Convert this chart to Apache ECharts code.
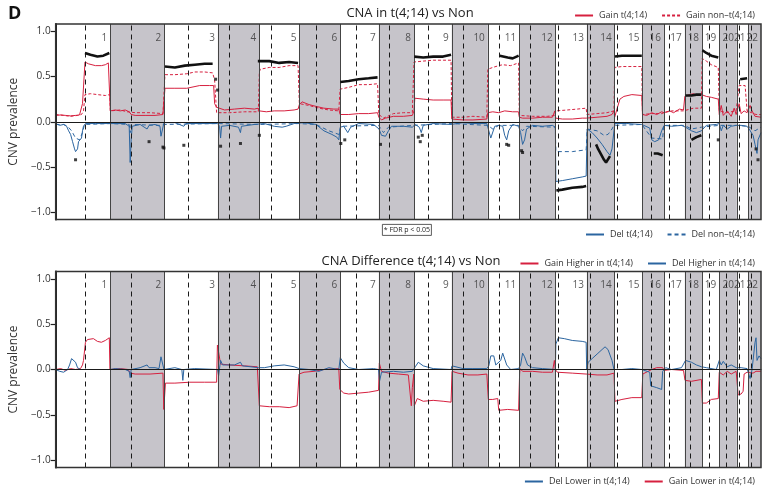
<!DOCTYPE html>
<html><head><meta charset="utf-8">
<script src="https://cdn.jsdelivr.net/npm/echarts@6/dist/echarts.min.js"></script>
<style>html,body{margin:0;padding:0;background:#fff}#c{width:763px;height:486px}</style>
</head><body><div id="c"></div>
<script>
// ---- genome layout (x units along the plotted genome index) ----
const chromNames = ['1','2','3','4','5','6','7','8','9','10','11','12','13','14','15','16','17','18','19','20','21','22'];
const chromBounds = [0,55,109.3,163.3,205,245.3,286.3,325.3,360.7,398.7,435,466.7,503.3,534.7,562.7,590.7,612.3,633.3,650.7,668,685.7,697.3,710];
const centromeres = [29.3,76,133,174.7,216.7,262,302.7,335.7,374.7,410.3,446.7,477.3,506,537.7,565.7,599.7,617.3,639,658,674.7,688.3,700];
const yTicks = [-1,-0.5,0,0.5,1];

// ---- top panel: CNA in t(4;14) vs Non ----
const gainT = [[0,0.07],[5,0.075],[10,0.07],[15,0.065],[20,0.07],[24,0.075],[26,0.08],[27,0.2],[28,0.21],[29,0.22],
[29.5,0.66],[33,0.64],[40,0.62],[46,0.62],[50,0.63],[53,0.65],[54.5,0.65],
[55,0.12],[60,0.13],[65,0.12],[70,0.13],[74,0.11],[76,0.08],[80,0.07],[90,0.07],[100,0.07],[108,0.08],
[109.3,0.08],[110,0.37],[120,0.37],[132,0.37],[134,0.39],[145,0.4],[155,0.4],[159,0.4],[160,0.2],[162,0.16],
[163.3,0.15],[170,0.13],[180,0.14],[190,0.15],[200,0.14],[204,0.15],
[205,0.12],[212,0.11],[220,0.12],[230,0.12],[240,0.13],[244,0.14],
[245.3,0.19],[248,0.22],[255,0.19],[262,0.17],[270,0.15],[280,0.14],[285,0.14],
[286.3,0.08],[295,0.08],[305,0.09],[315,0.09],[324,0.1],
[325.3,0.05],[328,0.02],[332,0.04],[340,0.06],[350,0.06],[359,0.07],
[360.7,0.12],[361.5,0.26],[370,0.25],[380,0.24],[390,0.24],[398,0.24],
[398.7,0.03],[410,0.02],[420,0.02],[434,0.03],
[435,0.1],[440,0.11],[446,0.1],[452,0.12],[460,0.11],[466,0.11],
[466.7,0.05],[470,0.04],[480,0.04],[490,0.05],[500,0.05],[502.5,0.12],[503,0.07],
[503.3,0.04],[510,0.03],[520,0.03],[530,0.04],[534,0.04],
[534.7,0.04],[545,0.05],[555,0.06],[560,0.08],[562,0.12],
[562.7,0.05],[565,0.14],[568,0.25],[572,0.28],[580,0.3],[590,0.29],
[590.7,0.08],[595,0.07],[600,0.1],[605,0.08],[610,0.11],
[612.3,0.1],[618,0.12],[622,0.1],[628,0.14],[632,0.13],
[633.3,0.28],[638,0.3],[642,0.31],[646,0.29],[650,0.3],
[650.7,0.29],[655,0.28],[660,0.27],[667,0.25],
[668,0.08],[670,0.18],[672,0.07],[676,0.12],[680,0.06],[683,0.15],[685,0.08],
[685.7,0.1],[688,0.2],[690,0.09],[693,0.12],[696,0.1],
[697.3,0.08],[699,0.18],[701,0.12],[704,0.06],[710,0.05]];

const gainNon = [[0,0.08],[8,0.07],[15,0.06],[22,0.07],[26,0.08],[28,0.12],
[29.5,0.3],[35,0.31],[42,0.3],[50,0.29],[54.5,0.3],
[55,0.12],[65,0.13],[72,0.11],[80,0.1],[95,0.1],[108,0.09],
[109.3,0.09],[110,0.52],[120,0.52],[132,0.53],[140,0.55],[150,0.55],[158,0.54],[160,0.46],[162,0.1],
[163.3,0.1],[175,0.1],[190,0.11],[204,0.11],
[205,0.55],[206,0.58],[215,0.6],[225,0.6],[235,0.62],[244,0.62],
[245.3,0.2],[255,0.18],[265,0.15],[275,0.13],[285,0.12],
[286.3,0.36],[295,0.38],[305,0.41],[315,0.41],[324,0.42],
[325.3,0.08],[330,0.04],[340,0.09],[350,0.1],[359,0.1],
[360.7,0.66],[370,0.67],[380,0.68],[390,0.68],[398,0.68],
[398.7,0.05],[410,0.05],[420,0.06],[434,0.05],
[435,0.58],[440,0.6],[446,0.62],[450,0.63],[458,0.62],[466,0.65],
[466.7,0.07],[480,0.06],[495,0.06],[503,0.07],
[503.3,0.12],[515,0.13],[525,0.14],[534,0.15],
[534.7,0.08],[545,0.09],[555,0.1],[562,0.12],
[562.7,0.6],[570,0.61],[580,0.61],[590,0.61],
[590.7,0.08],[600,0.09],[610,0.09],
[612.3,0.1],[620,0.12],[632,0.12],
[633.3,0.14],[642,0.15],[650,0.15],
[650.7,0.7],[655,0.67],[660,0.63],[667,0.6],
[668,0.12],[675,0.1],[685,0.12],
[685.7,0.1],[688,0.4],[694,0.4],[696,0.12],
[697.3,0.1],[705,0.08],[710,0.08]];

const delT = [[0,-0.02],[4,-0.04],[8,-0.03],[11,-0.05],[13,-0.1],[15,-0.14],[17,-0.22],[19,-0.3],[20,-0.33],[22,-0.3],[23,-0.22],[25,-0.22],[26,-0.18],[27,-0.1],[28,-0.05],[30,-0.02],
[40,-0.02],[54,-0.02],
[55,-0.01],[70,-0.02],[74,-0.05],[75,-0.45],[76,-0.2],[77,-0.05],[85,-0.03],[92,-0.08],[94,-0.04],[100,-0.03],[105,-0.05],[106,-0.16],[108,-0.15],[109,-0.01],
[120,-0.01],[129,-0.05],[130,-0.07],[131,-0.02],[163,-0.02],
[165,-0.05],[166,-0.18],[167,-0.05],[175,-0.04],[184,-0.06],[186,-0.12],[187,-0.05],[200,-0.03],
[210,-0.02],[220,-0.05],[228,-0.06],[232,-0.05],[240,-0.02],
[250,-0.01],[262,-0.03],[270,-0.1],[278,-0.14],[283,-0.17],[285,-0.2],
[286.5,-0.06],[290,-0.05],[294,-0.12],[297,-0.06],[305,-0.02],[320,-0.03],
[325.5,-0.08],[328,-0.15],[332,-0.16],[335,-0.1],[338,-0.05],[350,-0.05],[359,-0.06],
[362,-0.03],[366,-0.06],[368,-0.12],[370,-0.04],[380,-0.02],[398,-0.03],
[410,-0.01],[420,-0.02],[434,-0.02],
[436,-0.03],[438,-0.18],[440,-0.2],[442,-0.05],[446,-0.04],[450,-0.05],[452,-0.15],[454,-0.2],[456,-0.1],[460,-0.03],[466,-0.05],
[468,-0.12],[470,-0.25],[472,-0.2],[474,-0.08],[480,-0.04],[490,-0.05],[500,-0.04],[503,-0.06],
[503.5,-0.66],[510,-0.65],[520,-0.63],[530,-0.61],[534,-0.6],
[535,-0.08],[540,-0.12],[545,-0.18],[550,-0.25],[555,-0.33],[558,-0.37],[560,-0.3],[562,-0.1],
[563,-0.02],[575,-0.02],[590,-0.03],
[591,-0.05],[598,-0.07],[600,-0.2],[603,-0.22],[607,-0.2],[610,-0.1],
[612.5,-0.04],[620,-0.05],[630,-0.04],
[634,-0.06],[640,-0.1],[645,-0.12],[650,-0.1],
[655,-0.04],[665,-0.03],
[668,-0.02],[670,-0.1],[672,-0.04],[676,-0.08],[680,-0.05],[685,-0.04],
[690,-0.04],[696,-0.05],
[698,-0.08],[702,-0.15],[704,-0.25],[706,-0.35],[707,-0.2],[710,-0.12]];

const delNon = [[0,-0.03],[8,-0.03],[12,-0.05],[16,-0.1],[20,-0.18],[24,-0.2],[27,-0.12],[29,-0.03],[55,-0.02],[74,-0.03],[75,-0.12],[76,-0.03],[105,-0.04],[109,-0.03],[163,-0.02],[205,-0.03],[245,-0.02],[262,-0.03],[275,-0.1],[285,-0.14],[287,-0.05],[325,-0.04],[330,-0.12],[335,-0.06],[360,-0.04],[398,-0.02],[435,-0.04],[440,-0.08],[446,-0.04],[466,-0.04],[470,-0.1],[474,-0.05],[503,-0.06],[503.5,-0.33],[520,-0.33],[534,-0.31],[535,-0.08],[545,-0.1],[552,-0.15],[556,-0.14],[560,-0.08],[562,-0.04],[590,-0.03],[591,-0.04],[600,-0.18],[611,-0.19],[612,-0.04],[633,-0.04],[640,-0.08],[650,-0.06],[668,-0.04],[685,-0.04],[697,-0.05],[704,-0.1],[707,-0.08],[710,-0.06]];

// FDR p<0.05 markers (black), runs of markers and isolated markers
const sigRuns = [
 [[29.5,0.76],[35,0.74],[42,0.72],[48,0.73],[54,0.76]],
 [[110,0.61],[120,0.6],[130,0.62],[140,0.63],[150,0.64],[158,0.64]],
 [[203.5,0.67],[206,0.67],[215,0.67],[225,0.65],[235,0.66],[244,0.65]],
 [[286.5,0.44],[295,0.45],[305,0.47],[315,0.48],[324,0.49]],
 [[361,0.72],[370,0.71],[380,0.72],[390,0.72],[398,0.74]],
 [[447,0.73],[448,0.72],[455,0.71],[460,0.7],[464,0.72],[466,0.73]],
 [[563,0.72],[570,0.73],[580,0.73],[590,0.73]],
 [[634,0.29],[640,0.29],[645,0.3],[650,0.3]],
 [[651,0.79],[655,0.76],[660,0.73],[667,0.71]],
 [[689,0.47],[696,0.48]],
 [[504,-0.76],[510,-0.75],[520,-0.73],[530,-0.72],[534,-0.71]],
 [[544,-0.25],[546,-0.3],[549,-0.36],[552,-0.42],[554,-0.45],[556,-0.43],[558,-0.38]],
 [[602,-0.35],[606,-0.35],[611,-0.37]],
 [[640,-0.2],[645,-0.17],[650,-0.15]]
];
const sigDots = [[161,0.47],[163,0.35],[20,-0.42],[94,-0.22],[108,-0.28],[109,-0.29],[129,-0.26],[166,-0.27],[186,-0.24],[205,-0.15],[287,-0.24],[291,-0.2],[327,-0.25],[365,-0.17],[367,-0.22],[369,-0.15],[454,-0.25],[456,-0.26],[469,-0.32],[470,-0.34],[667,-0.2],[705,-0.3],[707,-0.42]];

// ---- bottom panel: CNA Difference t(4;14) vs Non ----
const gainDiff = [[0,0.0],[5,0.01],[10,-0.01],[15,0.01],[20,0.0],[25,0.01],[27,0.05],[28,0.1],[29,0.12],[30,0.3],[32,0.33],[38,0.34],[42,0.31],[46,0.3],[50,0.32],[54,0.35],[54.6,0.0],
[56,0.01],[65,0.01],[73,0.0],[75,-0.04],[80,-0.05],[95,-0.05],[108,-0.04],[108.8,-0.44],[110,-0.44],[110.5,-0.15],
[120,-0.15],[135,-0.14],[150,-0.14],[162,-0.14],[162.8,0.27],[164.5,0.27],[166,0.06],
[175,0.05],[190,0.04],[203,0.03],[204.5,0.02],[205,-0.4],
[215,-0.41],[225,-0.41],[235,-0.42],[243,-0.4],[245,-0.05],
[250,-0.03],[260,-0.02],[270,0.0],[285,0.01],[286,-0.22],
[290,-0.26],[295,-0.27],[305,-0.26],[315,-0.25],[325,-0.23],[325.8,0.07],[327,0.06],[328,-0.02],
[335,-0.04],[345,-0.05],[355,-0.06],[357,-0.04],[358,-0.4],[359,-0.2],[360.5,-0.05],
[361,-0.4],[363,-0.4],[364,-0.32],[370,-0.35],[380,-0.34],[390,-0.35],[398,-0.36],
[399,-0.02],[405,-0.04],[415,-0.06],[425,-0.06],[434,-0.05],
[435.5,-0.33],[440,-0.33],[445,-0.32],[446,-0.45],[455,-0.44],[466,-0.45],
[467,-0.05],[467.5,0.01],[470,-0.02],[480,-0.02],[490,-0.03],[500,-0.03],[502,0.1],[503,0.0],
[505,-0.03],[520,-0.04],[534,-0.05],
[536,-0.04],[545,-0.06],[555,-0.06],[562,-0.04],
[563,-0.35],[570,-0.33],[580,-0.31],[590,-0.31],
[591,-0.05],[600,0.0],[605,0.02],[611,0.02],
[612.5,-0.01],[620,0.0],[632,-0.01],
[633.5,-0.12],[640,-0.13],[650,-0.11],
[651,-0.37],[655,-0.37],[660,-0.33],[667,-0.32],
[668,-0.03],[672,-0.06],[676,-0.02],[680,-0.05],[685,-0.02],
[686,-0.02],[687,-0.28],[690,-0.27],[692,-0.24],[693,-0.05],[696,-0.03],
[698,-0.02],[702,-0.04],[705,-0.02],[710,-0.02]];

const delDiff = [[0,0.0],[4,-0.02],[8,-0.03],[10,-0.05],[12,0.0],[14,0.05],[16,0.12],[18,0.13],[20,0.08],[22,0.02],[25,0.0],[55,0.0],
[60,0.01],[70,0.0],[74,-0.02],[75,-0.09],[76,0.0],[85,0.02],[92,0.05],[94,0.02],[100,0.02],[104,0.01],[106,0.14],[107,0.15],[109,0.0],
[120,0.02],[127,0.0],[128,-0.12],[129,0.0],[140,0.01],[163,0.0],
[164,-0.07],[166,0.1],[168,0.05],[180,0.05],[186,0.08],[188,0.04],[204,0.02],
[210,0.02],[220,0.04],[230,0.05],[240,0.03],[245,0.01],
[255,0.0],[265,-0.02],[275,0.02],[285,0.0],
[286.5,0.13],[290,0.07],[295,0.02],[305,0.0],[320,0.01],[325,0.0],
[326,-0.13],[328,-0.03],[340,-0.02],[350,-0.03],[359,-0.02],
[362,0.03],[365,0.08],[367,0.09],[370,0.04],[380,0.01],[398,0.0],
[399,0.04],[410,0.01],[420,0.01],[434,0.01],
[436,0.04],[438,0.15],[441,0.15],[443,0.05],[448,0.1],[450,0.18],[452,0.17],[454,0.05],[458,0.0],[466,0.01],
[468,0.05],[470,0.18],[472,0.14],[475,0.05],[480,0.02],[490,0.01],[503,0.0],
[503.5,0.28],[506,0.35],[512,0.34],[520,0.32],[530,0.31],[534,0.3],[534.5,0.0],
[536,0.08],[540,0.12],[545,0.17],[550,0.22],[553,0.25],[556,0.22],[560,0.1],[562,0.0],
[570,0.0],[580,0.01],[590,0.0],
[591,-0.02],[598,-0.03],[599,-0.18],[605,-0.2],[610,-0.22],[611,-0.02],
[614,0.02],[620,0.0],[630,0.02],
[634,0.1],[640,0.08],[645,0.05],[650,0.03],
[655,0.02],[665,0.0],
[668,0.1],[670,0.05],[672,0.09],[676,0.03],[680,0.05],[685,0.02],
[690,0.02],[696,0.01],
[699,-0.1],[701,0.0],[704,0.3],[705,0.35],[706,0.1],[708,0.15],[710,0.12]];

// ---- styling ----
const RED = '#d6203f', BLUE = '#2b65a0', BAND = '#c6c4ca';
const FONT = 'Open Sans';

const chart = echarts.init(document.getElementById('c'), null, {renderer:'canvas'});

function bandsSeries(gi){
  const areas = [];
  for (let i = 1; i < chromNames.length; i += 2) areas.push([{xAxis: chromBounds[i]}, {xAxis: chromBounds[i+1]}]);
  return {type:'line', xAxisIndex:gi, yAxisIndex:gi, data:[[0,0]], symbol:'none', lineStyle:{opacity:0}, z:1, silent:true,
    markArea:{silent:true, itemStyle:{color:BAND, opacity:1}, data:areas}};
}
function linesSeries(gi){
  const ml = [];
  chromBounds.slice(1,-1).forEach(b => ml.push({xAxis:b, lineStyle:{color:'#444', width:1, type:'solid'}}));
  centromeres.forEach(c => ml.push({xAxis:c, lineStyle:{color:'#1a1a1a', width:1, type:[5,4]}}));
  return {type:'line', xAxisIndex:gi, yAxisIndex:gi, data:[[0,0]], symbol:'none', lineStyle:{opacity:0}, z:2, silent:true,
    markLine:{silent:true, symbol:['none','none'], label:{show:false}, data:ml}};
}
function labelSeries(gi, yv){
  return {type:'scatter', xAxisIndex:gi, yAxisIndex:gi, symbolSize:0, z:6, silent:true,
    data: chromNames.map((n,i)=>({value:[chromBounds[i+1], yv], name:n})),
    label:{show:true, position:'left', distance:3, formatter:p=>p.name, fontSize:10, color:'#333', fontFamily:FONT}};
}
function curve(name, data, gi, color, type, width, z){
  return {name, type:'line', xAxisIndex:gi, yAxisIndex:gi, data, symbol:'none', showSymbol:false, z:z||3, silent:true,
    lineStyle:{color, width:width||1, type:type||'solid'}, itemStyle:{color}};
}
function yAxisDef(gi){
  return {gridIndex:gi, type:'value', min:-1.08, max:1.08, z:7,
    name:'CNV prevalence', nameLocation:'middle', nameGap:33, nameTextStyle:{fontSize:12, color:'#333', fontFamily:FONT},
    axisLine:{show:true, lineStyle:{color:'#222', width:2}},
    axisTick:{show:true, length:5, customValues:yTicks, lineStyle:{color:'#222', width:1.2}},
    axisLabel:{customValues:yTicks, fontSize:10, color:'#333', fontFamily:FONT, margin:5,
      formatter:v=>v.toFixed(1).replace('-','\u2212')},
    splitLine:{show:false}};
}
function xAxisDef(gi){
  return {gridIndex:gi, type:'value', min:0, max:710, z:7,
    axisLine:{show:true, onZero:true, lineStyle:{color:'#1a1a1a', width:1.2}},
    axisTick:{show:false}, axisLabel:{show:false}, splitLine:{show:false}};
}

const series = [
  bandsSeries(0), linesSeries(0), labelSeries(0, 0.925),
  curve('Gain non\u2013t(4;14)', gainNon, 0, RED, [3,2], 1),
  curve('Gain t(4;14)', gainT, 0, RED, 'solid', 1),
  curve('Del non\u2013t(4;14)', delNon, 0, BLUE, [4,3], 1),
  curve('Del t(4;14)', delT, 0, BLUE, 'solid', 1),
  ...sigRuns.map(r => ({type:'line', xAxisIndex:0, yAxisIndex:0, data:r, symbol:'none', z:5, silent:true, lineStyle:{color:'#111', width:2.6}})),
  {type:'scatter', xAxisIndex:0, yAxisIndex:0, data:sigDots, symbol:'rect', symbolSize:3, z:5, silent:true, itemStyle:{color:'#111'}},
  bandsSeries(1), linesSeries(1), labelSeries(1, 0.93),
  curve('Gain Higher in t(4;14)', gainDiff, 1, RED, 'solid', 1),
  curve('Del Higher in t(4;14)', delDiff, 1, BLUE, 'solid', 1),
  curve('Del Lower in t(4;14)', [], 1, BLUE, 'solid', 1),
  curve('Gain Lower in t(4;14)', [], 1, RED, 'solid', 1)
];

const legendBase = {orient:'horizontal', itemWidth:18, itemHeight:2, itemGap:14, selectedMode:false,
  itemStyle:{opacity:0},
  textStyle:{fontSize:9, color:'#333', fontFamily:FONT, padding:[0,0,0,1]}, padding:0};

chart.setOption({
  animation:false,
  backgroundColor:'#fff',
  textStyle:{fontFamily:FONT},
  title:[
    {text:'D', left:3, top:0, textStyle:{fontSize:18, fontWeight:'bold', color:'#111', fontFamily:FONT}},
    {text:'CNA in t(4;14) vs Non', left:405, top:2, textAlign:'center', textStyle:{fontSize:13, fontWeight:'normal', color:'#222', fontFamily:FONT}},
    {text:'CNA Difference t(4;14) vs Non', left:406, top:250, textAlign:'center', textStyle:{fontSize:13, fontWeight:'normal', color:'#222', fontFamily:FONT}}
  ],
  legend:[
    Object.assign({}, legendBase, {data:['Gain t(4;14)','Gain non\u2013t(4;14)'], right:8, top:11}),
    Object.assign({}, legendBase, {data:['Del t(4;14)','Del non\u2013t(4;14)'], right:8, top:230}),
    Object.assign({}, legendBase, {data:['Gain Higher in t(4;14)','Del Higher in t(4;14)'], right:8, top:259}),
    Object.assign({}, legendBase, {data:['Del Lower in t(4;14)','Gain Lower in t(4;14)'], right:8, top:477})
  ],
  grid:[
    {left:51, right:2, top:24, height:195.5, show:true, z:8, backgroundColor:'transparent', borderColor:'#333', borderWidth:1.5},
    {left:51, right:2, top:271.5, height:196, show:true, z:8, backgroundColor:'transparent', borderColor:'#333', borderWidth:1.5}
  ],
  xAxis:[xAxisDef(0), xAxisDef(1)],
  yAxis:[yAxisDef(0), yAxisDef(1)],
  graphic:[
    {type:'group', left:382, top:224, z:20, children:[
      {type:'rect', shape:{x:0, y:0, width:49, height:11}, style:{fill:'#fff', stroke:'#333', lineWidth:0.8}},
      {type:'text', x:24.5, y:6, style:{text:'* FDR p < 0.05', fontSize:7, fill:'#222', align:'center', verticalAlign:'middle', fontFamily:FONT}}
    ]}
  ],
  series
});
</script>
</body></html>
